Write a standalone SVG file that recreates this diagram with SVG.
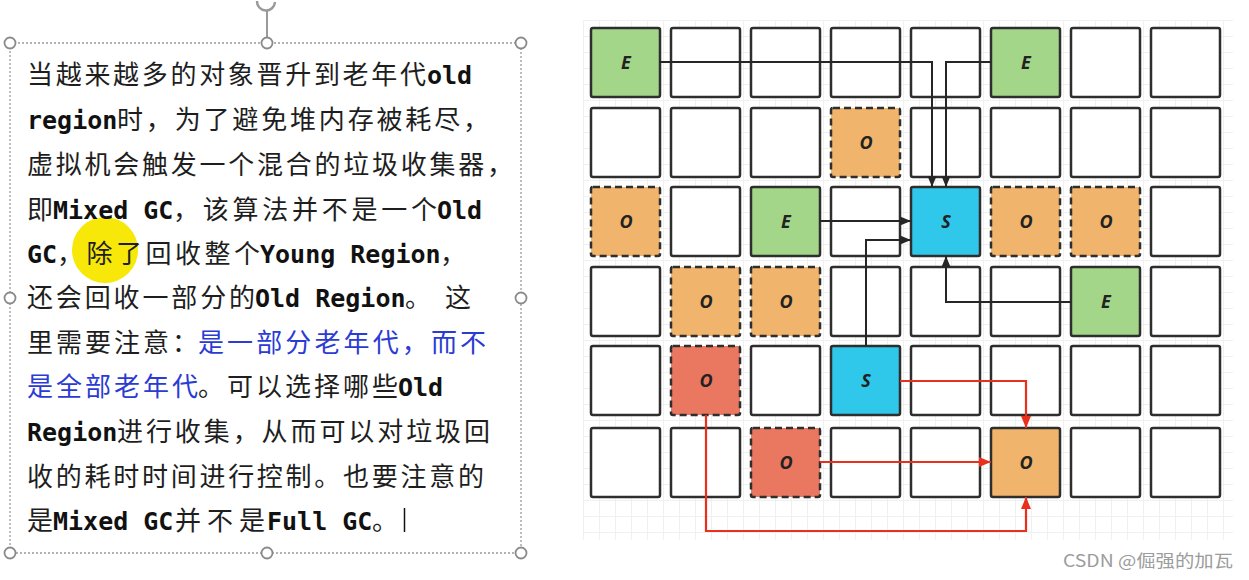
<svg xmlns="http://www.w3.org/2000/svg" width="1249" height="580" viewBox="0 0 1249 580">
<style>
.cjk{font-family:"Noto Sans CJK SC","Noto Sans",sans-serif;font-size:26px;fill:#1e1e1e}
.blue{fill:#2b3bd4}
.mono{font-family:"DejaVu Sans Mono","Liberation Mono",monospace;font-size:25px;font-weight:bold;fill:#111}
.cell{fill:#fff;stroke:#2e2e2e;stroke-width:2.5}
.dash{stroke-dasharray:7 4}
.g{fill:#a3d688}
.o{fill:#f0b46c}
.r{fill:#ea7760}
.s{fill:#2fc7ea}
.lbl{font-family:"Open Sans","DejaVu Sans",sans-serif;font-size:18px;font-weight:bold;font-style:italic;fill:#222;text-anchor:middle}
.blk{fill:none;stroke:#262626;stroke-width:2}
.red{fill:none;stroke:#e8301c;stroke-width:2.2}
.handle{fill:#fff;stroke:#8a8a8a;stroke-width:1.8}
</style>
<defs>
<marker id="ab" markerWidth="11" markerHeight="10" refX="11" refY="5" orient="auto" markerUnits="userSpaceOnUse"><path d="M0,0.5 L11,5 L0,9.5 z" fill="#262626"/></marker>
<marker id="ar" markerWidth="12" markerHeight="11" refX="12" refY="5.5" orient="auto" markerUnits="userSpaceOnUse"><path d="M0,0.5 L12,5.5 L0,10.5 z" fill="#e8301c"/></marker>
<pattern id="grid" x="583" y="20" width="16" height="16" patternUnits="userSpaceOnUse"><path d="M0.5 0 V16 M0 0.5 H16" stroke="#f0f0f0" stroke-width="1" fill="none"/></pattern>
</defs>
<rect width="1249" height="580" fill="#fff"/>

<!-- text box -->
<g id="textbox">
<rect x="10" y="43" width="511" height="510" fill="none" stroke="#9a9a9a" stroke-width="1.3" stroke-dasharray="2 2"/>
<line x1="267" y1="10" x2="267" y2="38" stroke="#9a9a9a" stroke-width="2"/>
<path d="M257 1 A9 9 0 0 0 275 2" fill="none" stroke="#9a9a9a" stroke-width="2.5"/>
<circle class="handle" cx="10" cy="43" r="5.5"/>
<circle class="handle" cx="267" cy="43" r="5.5"/>
<circle class="handle" cx="521" cy="43" r="5.5"/>
<circle class="handle" cx="10" cy="298" r="5.5"/>
<circle class="handle" cx="521" cy="298" r="5.5"/>
<circle class="handle" cx="10" cy="553" r="5.5"/>
<circle class="handle" cx="267" cy="553" r="5.5"/>
<circle class="handle" cx="521" cy="553" r="5.5"/>
<circle cx="105" cy="250" r="33" fill="#f7e80a"/>

<text class="cjk" x="27" y="84" textLength="399" lengthAdjust="spacing">当越来越多的对象晋升到老年代</text>
<text class="mono" x="427" y="84">old</text>

<text class="mono" x="27" y="129">region</text>
<text class="cjk" x="117" y="129" textLength="372" lengthAdjust="spacing">时，为了避免堆内存被耗尽，</text>

<text class="cjk" x="27" y="174" textLength="486" lengthAdjust="spacing">虚拟机会触发一个混合的垃圾收集器，</text>

<text class="cjk" x="27" y="219">即</text>
<text class="mono" x="53" y="219">Mixed GC</text>
<text class="cjk" x="173" y="219" textLength="264" lengthAdjust="spacing">，该算法并不是一个</text>
<text class="mono" x="437" y="219">Old</text>

<text class="mono" x="27" y="263">GC</text>
<text class="cjk" x="57" y="263" textLength="203" lengthAdjust="spacing">，除了回收整个</text>
<text class="mono" x="260" y="263">Young Region</text>
<text class="cjk" x="440" y="263">，</text>

<text class="cjk" x="27" y="307" textLength="228" lengthAdjust="spacing">还会回收一部分的</text>
<text class="mono" x="255" y="307">Old Region</text>
<text class="cjk" x="405" y="307" textLength="66" lengthAdjust="spacing">。这</text>

<text class="cjk" x="27" y="352" textLength="171" lengthAdjust="spacing">里需要注意：</text>
<text class="cjk blue" x="198" y="352" textLength="288" lengthAdjust="spacing">是一部分老年代，而不</text>

<text class="cjk blue" x="27" y="396" textLength="171" lengthAdjust="spacing">是全部老年代</text>
<text class="cjk" x="198" y="396" textLength="200" lengthAdjust="spacing">。可以选择哪些</text>
<text class="mono" x="398" y="396">Old</text>

<text class="mono" x="27" y="441">Region</text>
<text class="cjk" x="117" y="441" textLength="373" lengthAdjust="spacing">进行收集，从而可以对垃圾回</text>

<text class="cjk" x="27" y="486" textLength="457" lengthAdjust="spacing">收的耗时时间进行控制。也要注意的</text>

<text class="cjk" x="27" y="530">是</text>
<text class="mono" x="53" y="530">Mixed GC</text>
<text class="cjk" x="175" y="530" textLength="90" lengthAdjust="spacing">并不是</text>
<text class="mono" x="267" y="530">Full GC</text>
<text class="cjk" x="372" y="530">。</text>
<line x1="404.5" y1="508" x2="404.5" y2="532" stroke="#111" stroke-width="1.5"/>
</g>

<!-- diagram background grid -->
<rect x="583" y="20" width="650" height="520" fill="url(#grid)"/>

<!-- plain cells -->
<g id="empty-cells">
<rect class="cell" x="671" y="28" width="69" height="69" rx="2"/>
<rect class="cell" x="751" y="28" width="69" height="69" rx="2"/>
<rect class="cell" x="831" y="28" width="69" height="69" rx="2"/>
<rect class="cell" x="911" y="28" width="69" height="69" rx="2"/>
<rect class="cell" x="1071" y="28" width="69" height="69" rx="2"/>
<rect class="cell" x="1151" y="28" width="69" height="69" rx="2"/>

<rect class="cell" x="591" y="108" width="69" height="69" rx="2"/>
<rect class="cell" x="671" y="108" width="69" height="69" rx="2"/>
<rect class="cell" x="751" y="108" width="69" height="69" rx="2"/>
<rect class="cell" x="911" y="108" width="69" height="69" rx="2"/>
<rect class="cell" x="991" y="108" width="69" height="69" rx="2"/>
<rect class="cell" x="1071" y="108" width="69" height="69" rx="2"/>
<rect class="cell" x="1151" y="108" width="69" height="69" rx="2"/>

<rect class="cell" x="671" y="187" width="69" height="69" rx="2"/>
<rect class="cell" x="831" y="187" width="69" height="69" rx="2"/>
<rect class="cell" x="1151" y="187" width="69" height="69" rx="2"/>

<rect class="cell" x="591" y="267" width="69" height="69" rx="2"/>
<rect class="cell" x="831" y="267" width="69" height="69" rx="2"/>
<rect class="cell" x="911" y="267" width="69" height="69" rx="2"/>
<rect class="cell" x="991" y="267" width="69" height="69" rx="2"/>
<rect class="cell" x="1151" y="267" width="69" height="69" rx="2"/>

<rect class="cell" x="591" y="346" width="69" height="69" rx="2"/>
<rect class="cell" x="751" y="346" width="69" height="69" rx="2"/>
<rect class="cell" x="911" y="346" width="69" height="69" rx="2"/>
<rect class="cell" x="991" y="346" width="69" height="69" rx="2"/>
<rect class="cell" x="1071" y="346" width="69" height="69" rx="2"/>
<rect class="cell" x="1151" y="346" width="69" height="69" rx="2"/>

<rect class="cell" x="591" y="428" width="69" height="69" rx="2"/>
<rect class="cell" x="671" y="428" width="69" height="69" rx="2"/>
<rect class="cell" x="831" y="428" width="69" height="69" rx="2"/>
<rect class="cell" x="911" y="428" width="69" height="69" rx="2"/>
<rect class="cell" x="1071" y="428" width="69" height="69" rx="2"/>
<rect class="cell" x="1151" y="428" width="69" height="69" rx="2"/>
</g>

<g id="e1"><rect class="cell g" x="591" y="28" width="69" height="69" rx="2"/><text class="lbl" x="626" y="69">E</text></g>
<g id="e2"><rect class="cell g" x="991" y="28" width="69" height="69" rx="2"/><text class="lbl" x="1026" y="69">E</text></g>
<g id="o1"><rect class="cell o dash" x="831" y="108" width="69" height="69" rx="2"/><text class="lbl" x="866" y="149">O</text></g>
<g id="o2"><rect class="cell o dash" x="591" y="187" width="69" height="69" rx="2"/><text class="lbl" x="626" y="228">O</text></g>
<g id="e3"><rect class="cell g" x="751" y="187" width="69" height="69" rx="2"/><text class="lbl" x="786" y="228">E</text></g>
<g id="s1"><rect class="cell s" x="911" y="187" width="69" height="69" rx="2"/><text class="lbl" x="946" y="228">S</text></g>
<g id="o3"><rect class="cell o dash" x="991" y="187" width="69" height="69" rx="2"/><text class="lbl" x="1026" y="228">O</text></g>
<g id="o4"><rect class="cell o dash" x="1071" y="187" width="69" height="69" rx="2"/><text class="lbl" x="1106" y="228">O</text></g>
<g id="o5"><rect class="cell o dash" x="671" y="267" width="69" height="69" rx="2"/><text class="lbl" x="706" y="308">O</text></g>
<g id="o6"><rect class="cell o dash" x="751" y="267" width="69" height="69" rx="2"/><text class="lbl" x="786" y="308">O</text></g>
<g id="e4"><rect class="cell g" x="1071" y="267" width="69" height="69" rx="2"/><text class="lbl" x="1106" y="308">E</text></g>
<g id="r1"><rect class="cell r dash" x="671" y="346" width="69" height="69" rx="2"/><text class="lbl" x="706" y="387">O</text></g>
<g id="s2"><rect class="cell s" x="831" y="346" width="69" height="69" rx="2"/><text class="lbl" x="866" y="387">S</text></g>
<g id="r2"><rect class="cell r dash" x="751" y="428" width="69" height="69" rx="2"/><text class="lbl" x="786" y="469">O</text></g>
<g id="o7"><rect class="cell o" x="991" y="428" width="69" height="69" rx="2"/><text class="lbl" x="1026" y="469">O</text></g>

<g id="connectors">
<polyline class="blk" points="660,62 932,62 932,187" marker-end="url(#ab)"/>
<polyline class="blk" points="991,62 946,62 946,187" marker-end="url(#ab)"/>
<polyline class="blk" points="820,221 911,221" marker-end="url(#ab)"/>
<polyline class="blk" points="866,346 866,240 911,240" marker-end="url(#ab)"/>
<polyline class="blk" points="1071,302 946,302 946,256" marker-end="url(#ab)"/>
<polyline class="red" points="900,381 1026,381 1026,428" marker-end="url(#ar)"/>
<polyline class="red" points="820,462 991,462" marker-end="url(#ar)"/>
<polyline class="red" points="706,415 706,531 1026,531 1026,497" marker-end="url(#ar)"/>
</g>

<text x="1063" y="567" textLength="170" lengthAdjust="spacingAndGlyphs" font-family="Noto Sans CJK SC, Noto Sans, sans-serif" font-size="17" fill="#9c9c9c">CSDN @倔强的加瓦</text>
</svg>
